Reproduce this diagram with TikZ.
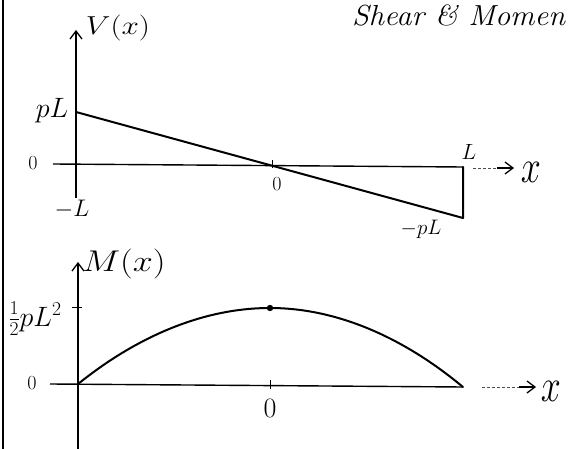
\RequirePackage{fix-cm}
\documentclass[tikz,border=0pt]{standalone}
\usetikzlibrary{arrows.meta}
\tikzset{
  lbl/.style={inner sep=0pt},
  axisline/.style={line width=1.4pt},
  vaxis/.style={line width=1.8pt},
  curve/.style={line width=2pt, line cap=round, line join=round},
  tipa/.style={-{Straight Barb[length=8pt,width=12pt,line width=1.3pt]}},
  ext/.style={line width=0.8pt, dash pattern=on 3pt off 2pt, black!70},
  tick/.style={line width=1pt},
}
\newcommand{\fs}[1]{\fontsize{#1}{#1}\selectfont}
\begin{document}
\begin{tikzpicture}[x=1pt,y=-1pt]
\useasboundingbox (0,0) rectangle (579,449);
% page edge
\coordinate (edgeT) at (3,0);
\coordinate (edgeB) at (3,449);
\draw[line width=1.8pt] (edgeT) -- (edgeB);
% title
\node[lbl, anchor=base west, font=\fs{29}\itshape, xscale=1.05] (title) at (352,26) {Shear \& Momen};

% ---------- shear diagram ----------
\coordinate (vbot) at (76,198);
\coordinate (vtop) at (76,30);
\draw[vaxis, tipa] (vbot) -- (vtop);
\coordinate (h0) at (53,164);
\coordinate (hL) at (463,167);
\draw[axisline] (h0) -- (hL);
\coordinate (e1) at (473,168);
\coordinate (e2) at (497,168);
\coordinate (e3) at (514,168);
\draw[ext] (e1) -- (e2);
\draw[axisline, tipa] (e2) -- (e3);
\coordinate (t1a) at (272,160);
\coordinate (t1b) at (272,168);
\draw[tick] (t1a) -- (t1b);
\coordinate (vp) at (76,112);
\coordinate (vm) at (463,218);
\draw[curve] (vp) -- (vm) -- (hL);

\node[lbl, font=\fs{26}, xscale=1.2] (Vlab) at (118,28) {$V(x)$};
\node[lbl, font=\fs{28}] (pLlab) at (52,111) {$pL$};
\node[lbl, font=\fs{20}] (z1) at (33,163) {0};
\node[lbl, font=\fs{20}] (z2) at (277,184) {0};
\node[lbl, font=\fs{24}] (mL) at (72,209) {$-L$};
\node[lbl, font=\fs{22}] (Llab) at (469,152) {$L$};
\node[lbl, font=\fs{21}] (mpL) at (421,229) {$-pL$};
\node[lbl, font=\fs{36}, yscale=1.3] (x1) at (531,172) {$x$};

% ---------- moment diagram ----------
\coordinate (mbot) at (78,449);
\coordinate (mtop) at (78,262);
\draw[axisline, tipa] (mbot) -- (mtop);
\coordinate (m0) at (50,384);
\coordinate (mA) at (78,384);
\coordinate (mE) at (463,387);
\draw[axisline] (m0) -- (mE);
\coordinate (f1) at (482,387);
\coordinate (f2) at (519,387);
\coordinate (f3) at (536,387);
\draw[ext] (f1) -- (f2);
\draw[axisline, tipa] (f2) -- (f3);
\coordinate (t2a) at (270,380);
\coordinate (t2b) at (270,389);
\draw[tick] (t2a) -- (t2b);
\coordinate (t3a) at (72,308);
\coordinate (t3b) at (82,308);
\draw[tick] (t3a) -- (t3b);
\coordinate (peak) at (270,308);
\draw[curve] (mA) parabola bend (peak) (mE);
\fill (peak) circle (3.2);

\node[lbl, font=\fs{30}, xscale=1.2] (Mlab) at (124,264) {$M(x)$};
\node[lbl, font=\fs{28}] (half) at (35,319) {$\frac{1}{2}pL^2$};
\node[lbl, font=\fs{20}] (z3) at (32,383) {0};
\node[lbl, font=\fs{28}] (z4) at (270,408) {0};
\node[lbl, font=\fs{36}, yscale=1.3] (x2) at (551,391) {$x$};
\end{tikzpicture}
\end{document}
